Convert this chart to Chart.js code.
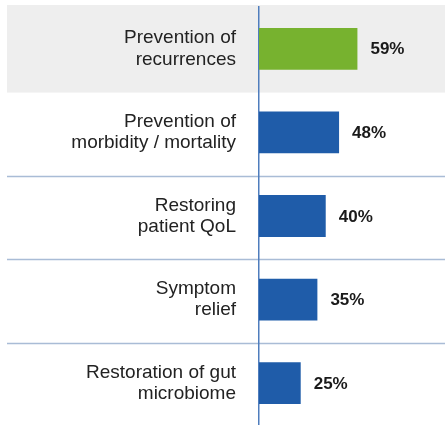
<!DOCTYPE html>
<html>
<head>
<meta charset="utf-8">
<script src="https://cdn.jsdelivr.net/npm/chart.js@4"></script>
<style>
  html, body { margin: 0; padding: 0; background: #ffffff; }
  #wrap { width: 445px; height: 425px; }
</style>
</head>
<body>
<div id="wrap"><canvas id="chart"></canvas></div>
<script>
// data
const categories = [
  ['Prevention of', 'recurrences'],
  ['Prevention of', 'morbidity / mortality'],
  ['Restoring', 'patient QoL'],
  ['Symptom', 'relief'],
  ['Restoration of gut', 'microbiome']
];
const values = [59, 48, 40, 35, 25];
const barColors = ['#77b22f', '#1f5ca9', '#1f5ca9', '#1f5ca9', '#1f5ca9'];

// gray band behind first row + separators across full width
const rowBackground = {
  id: 'rowBackground',
  beforeDraw(chart) {
    const { ctx } = chart;
    const y = chart.scales.y;
    const step = y.getPixelForValue(1) - y.getPixelForValue(0);
    ctx.save();
    ctx.fillStyle = '#eeeeee';
    const top = y.getPixelForValue(0) - step / 2 - 2;
    ctx.fillRect(7, top, chart.width - 7, step + 4);
    ctx.strokeStyle = '#a9bcd6';
    ctx.lineWidth = 1.5;
    for (let i = 2; i < categories.length; i++) {
      const py = Math.round(y.getPixelForValue(i) - step / 2 + 1.5) + 0.5;
      ctx.beginPath();
      ctx.moveTo(7, py);
      ctx.lineTo(chart.width, py);
      ctx.stroke();
    }
    ctx.restore();
  }
};

// percent labels to the right of bars
const valueLabels = {
  id: 'valueLabels',
  afterDatasetsDraw(chart) {
    const { ctx } = chart;
    const meta = chart.getDatasetMeta(0);
    ctx.save();
    ctx.font = 'bold 17px "Liberation Sans", Arial, sans-serif';
    ctx.fillStyle = '#1a1a1a';
    ctx.textAlign = 'left';
    ctx.textBaseline = 'middle';
    meta.data.forEach((bar, i) => {
      ctx.fillText(values[i] + '%', bar.x + 13, bar.y + 1);
    });
    ctx.restore();
  }
};

new Chart(document.getElementById('chart'), {
  type: 'bar',
  data: {
    labels: categories,
    datasets: [{
      data: values,
      backgroundColor: barColors,
      borderWidth: 0,
      categoryPercentage: 1,
      barPercentage: 0.5
    }]
  },
  options: {
    indexAxis: 'y',
    responsive: true,
    maintainAspectRatio: false,
    animation: false,
    layout: { padding: { top: 7, right: 0, bottom: 0, left: 0 } },
    plugins: {
      legend: { display: false },
      tooltip: { enabled: false }
    },
    scales: {
      x: {
        display: false,
        min: 0,
        max: 111.5
      },
      y: {
        afterFit: (scale) => {
          scale.width = 259;
          scale.paddingTop = 0;
          scale.paddingBottom = 0;
        },
        grid: { display: false, drawTicks: false },
        border: { display: true, color: '#4f7dbd', width: 1.5 },
        ticks: {
          padding: 23,
          color: '#222222',
          font: { family: '"Liberation Sans", Arial, sans-serif', size: 19, lineHeight: 1.12 }
        }
      }
    }
  },
  plugins: [rowBackground, valueLabels]
});
</script>
</body>
</html>
